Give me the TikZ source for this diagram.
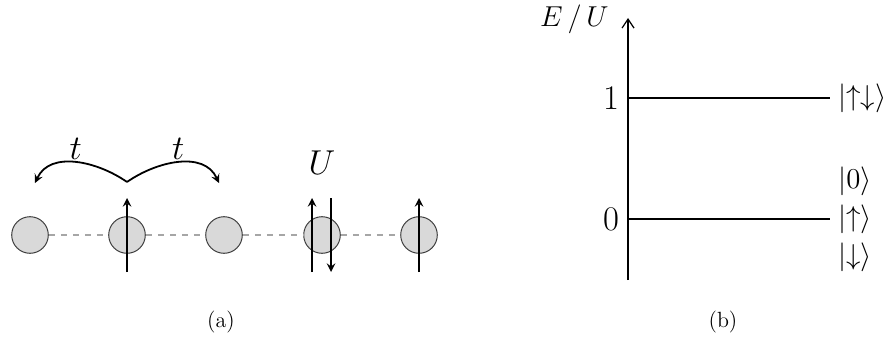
\documentclass[tikz,border=0pt]{standalone}
\usepackage{amsmath,amssymb}
\usepackage{tikz}
\usetikzlibrary{arrows.meta}
\tikzset{
  site/.style={circle,draw=black!75,fill=gray!30,minimum size=18.3pt,inner sep=0pt,line width=0.5pt},
  spin/.style={line width=0.9pt,-stealth},
  lbl/.style={font=\fontsize{16}{19}\selectfont},
  ket/.style={font=\fontsize{14}{17}\selectfont,anchor=west,inner sep=4pt}
}

\begin{document}
\begin{tikzpicture}[x=0.5pt,y=0.5pt]
  \useasboundingbox (0,0) rectangle (889,338);
  % (a) the chain
  \foreach \i/\x in {1/30,2/127,3/224,4/322,5/419}
    \node[site] (s\i) at (\x,103) {};
  \foreach \i/\j in {1/2,2/3,3/4,4/5}
    \draw[dashed,gray!70,line width=0.6pt] (s\i) -- (s\j);
  \draw[spin] ([yshift=-18.5pt]s2.center) -- ([yshift=18.5pt]s2.center);
  \draw[spin] ([xshift=-5pt,yshift=-18.5pt]s4.center) -- ([xshift=-5pt,yshift=18.5pt]s4.center);
  \draw[spin] ([xshift=4.5pt,yshift=18.5pt]s4.center) -- ([xshift=4.5pt,yshift=-18.5pt]s4.center);
  \draw[spin] ([yshift=-18.5pt]s5.center) -- ([yshift=18.5pt]s5.center);
  \coordinate (hop) at (127,156); \coordinate (hl) at (35,155); \coordinate (hr) at (219,155);
  \draw[spin] (hop) to[out=145,in=65] node[lbl,above,inner sep=1pt] {$t$} (hl);
  \draw[spin] (hop) to[out=35,in=115] node[lbl,above,inner sep=1pt] {$t$} (hr);
  \node[lbl] (u) at (322,175) {$U$};
  \node[font=\fontsize{11}{13}\selectfont] (ca) at (221,16) {(a)};
  % (b) the levels
  \coordinate (o) at (628,58); \coordinate (top) at (628,320);
  \draw[-{Straight Barb[length=4.5pt,width=6pt]},line width=0.6pt] (o) -- (top);
  \node[font=\fontsize{14}{17}\selectfont,anchor=base east,inner sep=0pt] (eu) at (609,311) {$E\,/\,U$};
  \node[lbl] (one) at (611,240) {$1$};
  \node[lbl] (zero) at (611,119) {$0$};
  \coordinate (e1) at (628,240); \coordinate (e0) at (628,119);
  \node[ket] (kud) at (830,240) {$|{\uparrow\downarrow}\rangle$};
  \node[ket] (k0) at (830,157) {$|0\rangle$};
  \node[ket] (ku) at (830,119) {$|{\uparrow}\rangle$};
  \node[ket] (kd) at (830,81) {$|{\downarrow}\rangle$};
  \draw[line width=0.6pt] (e1) -- (kud.west);
  \draw[line width=0.6pt] (e0) -- (ku.west);
  \node[font=\fontsize{11}{13}\selectfont] (cb) at (723,16) {(b)};
\end{tikzpicture}
\end{document}
